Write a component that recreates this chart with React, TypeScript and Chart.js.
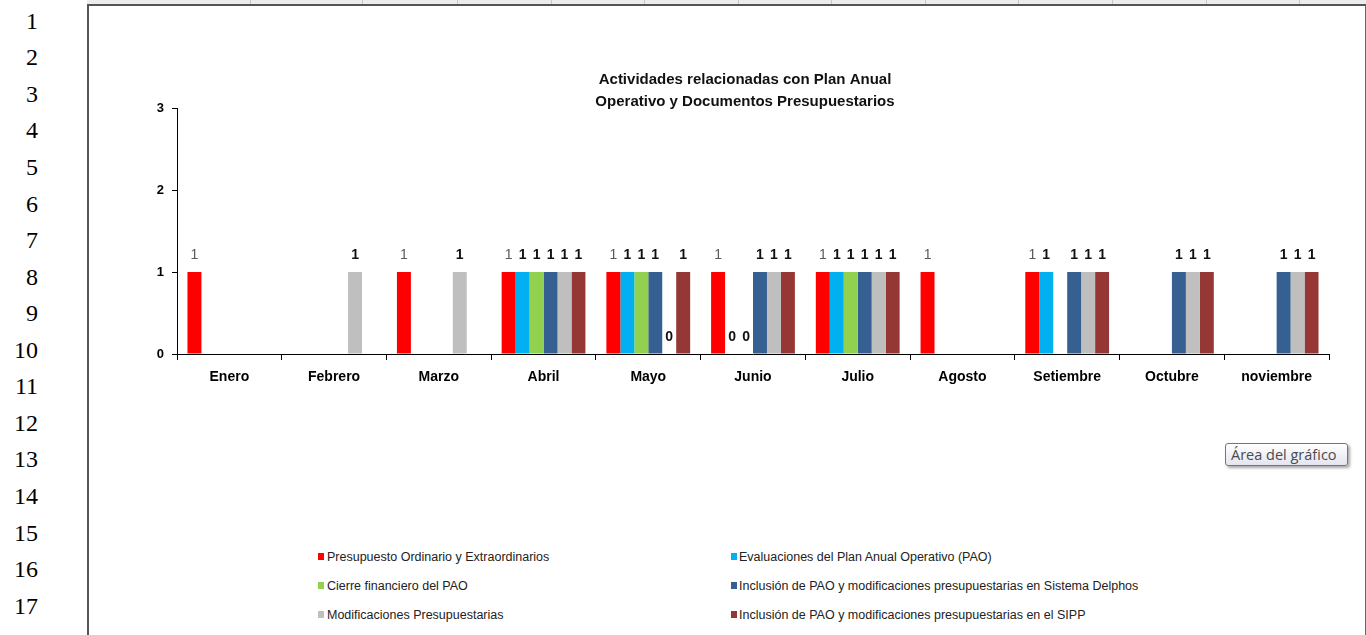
import React, { useEffect, useRef } from "react";
import { Chart, registerables } from "chart.js";

Chart.register(...registerables);

// Months on the category axis
const months = [
  "Enero",
  "Febrero",
  "Marzo",
  "Abril",
  "Mayo",
  "Junio",
  "Julio",
  "Agosto",
  "Setiembre",
  "Octubre",
  "noviembre",
];

// Activity counts per month (null = no entry that month)
const presupuestoOrdinario = [1, null, 1, 1, 1, 1, 1, 1, 1, null, null];
const evaluacionesPAO = [null, null, null, 1, 1, 0, 1, null, 1, null, null];
const cierreFinanciero = [null, null, null, 1, 1, 0, 1, null, null, null, null];
const inclusionDelphos = [null, null, null, 1, 1, 1, 1, null, 1, 1, 1];
const modificaciones = [null, 1, 1, 1, 0, 1, 1, null, 1, 1, 1];
const inclusionSIPP = [null, null, null, 1, 1, 1, 1, null, 1, 1, 1];

const seriesNames = [
  "Presupuesto Ordinario y Extraordinarios",
  "Evaluaciones del Plan Anual Operativo (PAO)",
  "Cierre financiero del PAO",
  "Inclusión de PAO y modificaciones presupuestarias en Sistema Delphos",
  "Modificaciones Presupuestarias",
  "Inclusión de PAO y modificaciones presupuestarias en el SIPP",
];
const seriesValues = [
  presupuestoOrdinario,
  evaluacionesPAO,
  cierreFinanciero,
  inclusionDelphos,
  modificaciones,
  inclusionSIPP,
];
const seriesColors = ["#FF0000", "#00B0F0", "#92D050", "#376092", "#BFBFBF", "#953735"];

const yTicks = [0, 1, 2, 3];

const titleLines = [
  "Actividades relacionadas con Plan Anual",
  "Operativo y Documentos Presupuestarios",
];

const rowNumbers = Array.from({ length: 18 }, (_, i) => i + 1);
const sheetColumnEdges = [250, 362, 457, 551, 644, 738, 831, 925, 1018, 1112, 1206, 1299];

const SANS = "'Liberation Sans', Arial, sans-serif";

// Two-line heading drawn over the plot
const headline = {
  id: "headline",
  afterDraw(chart: any) {
    const ctx = chart.ctx;
    ctx.save();
    ctx.font = `bold 15px ${SANS}`;
    ctx.fillStyle = "#111";
    ctx.textAlign = "center";
    ctx.textBaseline = "middle";
    titleLines.forEach((line, i) => ctx.fillText(line, 656, 74 + i * 22));
    ctx.restore();
  },
};

// Value printed above every bar that has an entry
const valueLabels = {
  id: "valueLabels",
  afterDatasetsDraw(chart: any) {
    const ctx = chart.ctx;
    chart.data.datasets.forEach((ds: any, i: number) => {
      const meta = chart.getDatasetMeta(i);
      meta.data.forEach((bar: any, j: number) => {
        const v = ds.data[j];
        if (v === null || v === undefined) return;
        ctx.save();
        ctx.font = ds.labelFont;
        ctx.fillStyle = ds.labelColor;
        ctx.textAlign = "center";
        ctx.textBaseline = "middle";
        ctx.fillText(String(v), bar.x, bar.y - 17);
        ctx.restore();
      });
    });
  },
};

function ActivityChart() {
  const canvasRef = useRef<HTMLCanvasElement | null>(null);

  useEffect(() => {
    if (!canvasRef.current) return;
    const chart = new Chart(canvasRef.current, {
      type: "bar",
      data: {
        labels: months,
        datasets: seriesNames.map((name, i) => ({
          label: name,
          data: seriesValues[i],
          backgroundColor: seriesColors[i],
          borderWidth: 0,
          barPercentage: 1,
          categoryPercentage: 0.8,
          labelFont: i === 0 ? `14px ${SANS}` : `bold 14px ${SANS}`,
          labelColor: i === 0 ? "#595959" : "#111",
        })) as any,
      },
      options: {
        animation: false,
        responsive: false,
        devicePixelRatio: 1,
        layout: { padding: { top: 102, right: 35, bottom: 32, left: 0 } },
        plugins: {
          legend: { display: false },
          title: { display: false },
          tooltip: { enabled: false },
        },
        scales: {
          x: {
            type: "category",
            grid: {
              offset: true,
              drawOnChartArea: false,
              drawTicks: true,
              tickLength: 6,
              color: "#000",
            },
            border: { color: "#000", width: 1 },
            ticks: {
              color: "#000",
              padding: 9,
              autoSkip: false,
              maxRotation: 0,
              font: { family: SANS, size: 14, weight: "bold" },
            },
            afterFit(scale: any) {
              scale.height = 40;
            },
          },
          y: {
            min: 0,
            max: 3,
            grid: {
              drawOnChartArea: false,
              drawTicks: true,
              tickLength: 5,
              color: "#000",
            },
            border: { color: "#000", width: 1 },
            ticks: {
              color: "#000",
              padding: 8,
              font: { family: SANS, size: 13, weight: "bold" },
            },
            afterBuildTicks(scale: any) {
              scale.ticks = yTicks.map((v) => ({ value: v }));
            },
            afterFit(scale: any) {
              scale.width = 88;
            },
          },
        },
      } as any,
      plugins: [headline, valueLabels],
    });
    return () => chart.destroy();
  }, []);

  return (
    <canvas
      ref={canvasRef}
      width={1275}
      height={420}
      style={{ position: "absolute", left: 89, top: 6, width: 1275, height: 420 }}
    />
  );
}

function Legend() {
  return (
    <>
      {seriesNames.map((name, i) => {
        const col = i % 2;
        const row = Math.floor(i / 2);
        return (
          <div
            key={name}
            style={{
              position: "absolute",
              left: col === 0 ? 318 : 731,
              top: 549 + row * 29,
              height: 15,
              display: "flex",
              alignItems: "center",
              whiteSpace: "nowrap",
              fontFamily: SANS,
              fontSize: 12.5,
              color: "#222",
            }}
          >
            <span
              style={{
                display: "inline-block",
                width: 6,
                height: 7,
                background: seriesColors[i],
                marginRight: col === 0 ? 3 : 2,
              }}
            />
            <span>{name}</span>
          </div>
        );
      })}
    </>
  );
}

export default function App() {
  return (
    <div
      style={{
        position: "fixed",
        left: 0,
        top: 0,
        width: 1366,
        height: 635,
        overflow: "hidden",
        background: "#fff",
      }}
    >
      {/* sheet column strip */}
      <div
        style={{
          position: "absolute",
          left: 87,
          top: 0,
          width: 1279,
          height: 4,
          background: "#ececec",
        }}
      />
      {sheetColumnEdges.map((x) => (
        <div
          key={x}
          style={{ position: "absolute", left: x, top: 0, width: 1, height: 4, background: "#c8c8c8" }}
        />
      ))}

      {/* row numbers */}
      {rowNumbers.map((n) => (
        <div
          key={n}
          style={{
            position: "absolute",
            left: 0,
            width: 38,
            top: 2.7 + (n - 1) * 36.56,
            height: 36.56,
            lineHeight: "36.56px",
            textAlign: "right",
            fontFamily: "'Liberation Serif', 'Times New Roman', serif",
            fontSize: 24,
            color: "#000",
          }}
        >
          {n}
        </div>
      ))}

      {/* chart frame */}
      <div
        style={{
          position: "absolute",
          left: 87,
          top: 4,
          width: 1276,
          height: 660,
          borderLeft: "2px solid #555",
          borderTop: "2px solid #555",
          borderRight: "2px solid #666",
          background: "#fff",
        }}
      />

      <ActivityChart />
      <Legend />

      {/* hover hint */}
      <div
        style={{
          position: "absolute",
          left: 1225,
          top: 443,
          width: 116,
          height: 21,
          border: "1px solid #767676",
          borderRadius: 3,
          background: "linear-gradient(#ffffff, #e4e5f0)",
          boxShadow: "2px 2px 3px rgba(0,0,0,0.35)",
          fontFamily: "'Open Sans', 'Noto Sans', sans-serif",
          fontSize: 14.5,
          lineHeight: "21px",
          color: "#4a4a4a",
          paddingLeft: 5,
          boxSizing: "content-box",
          whiteSpace: "nowrap",
          overflow: "hidden",
        }}
      >
        Área del gráfico
      </div>
    </div>
  );
}
